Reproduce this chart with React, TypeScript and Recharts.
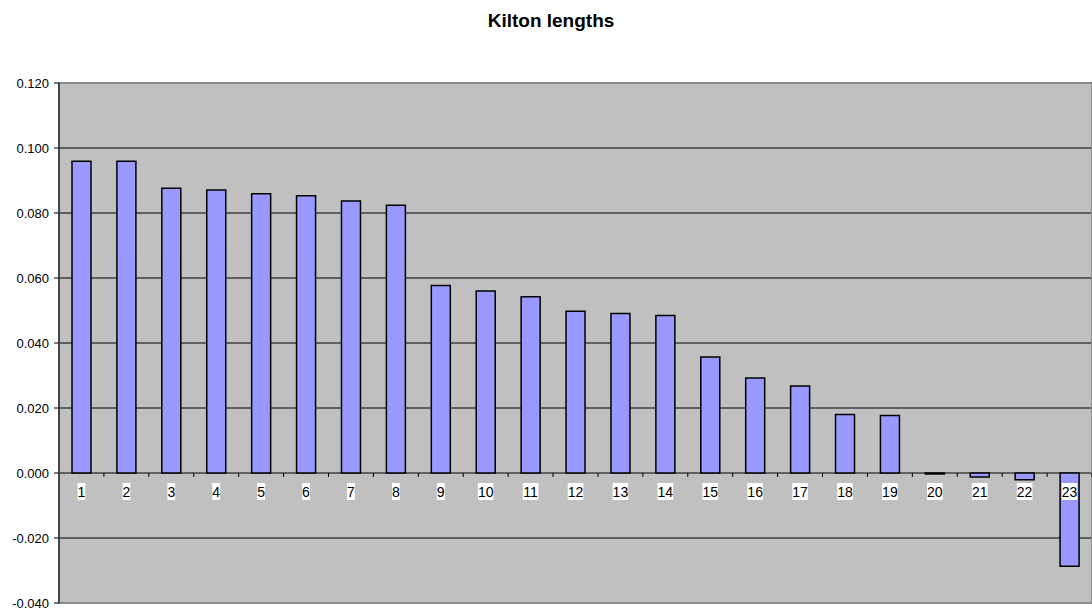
import { Bar, BarChart, CartesianGrid, ReferenceArea, XAxis, YAxis } from "recharts";

const CATEGORIES = [
  "1", "2", "3", "4", "5", "6", "7", "8", "9", "10", "11", "12",
  "13", "14", "15", "16", "17", "18", "19", "20", "21", "22", "23",
];
const LENGTHS = [
  0.0959, 0.0959, 0.0876, 0.0871, 0.0859, 0.0853, 0.0837, 0.0824, 0.0577,
  0.056, 0.0542, 0.0498, 0.0491, 0.0485, 0.0357, 0.0292, 0.0268, 0.018,
  0.0177, -0.0003, -0.0012, -0.0021, -0.0287,
];
const Y_TICKS = [-0.04, -0.02, 0, 0.02, 0.04, 0.06, 0.08, 0.1, 0.12];

const W = 1092;
const H = 610;
const TOP = 83;
const BOTTOM = 5;
const LEFT = 59;
const X_AXIS_H = 2;
const PLOT_H = H - TOP - BOTTOM - X_AXIS_H;
const ZERO_Y = TOP + (PLOT_H * 0.12) / 0.16;
const BAND = (W - LEFT) / CATEGORIES.length;
const FONT = "'Liberation Sans', Arial, sans-serif";

const data = CATEGORIES.map((c, i) => ({ name: c, value: LENGTHS[i] }));

// labels sit on the zero line with a white box, like the excel original
function ZeroTick(props: any) {
  const { x, payload } = props;
  const label = String(payload.value);
  const w = label.length * 7.8;
  return (
    <g>
      <line x1={x + BAND / 2} x2={x + BAND / 2} y1={ZERO_Y} y2={ZERO_Y + 4} stroke="#000" />
      <rect x={x - w / 2} y={ZERO_Y + 10} width={w} height={17} fill="#fff" />
      <text
        x={x}
        y={ZERO_Y + 23.5}
        textAnchor="middle"
        fontSize={14}
        fontFamily={FONT}
        fill="#000"
      >
        {label}
      </text>
    </g>
  );
}

export default function App() {
  return (
    <div style={{ position: "absolute", left: 0, top: 0, width: W, height: H, background: "#fff" }}>
      <BarChart
        width={W}
        height={H}
        data={data}
        margin={{ top: TOP, right: 0, bottom: BOTTOM, left: 0 }}
        barSize={19}
      >
        <text
          x={551}
          y={27}
          textAnchor="middle"
          fontSize={19}
          fontWeight="bold"
          fontFamily={FONT}
          fill="#000"
        >
          Kilton lengths
        </text>
        <CartesianGrid vertical={false} stroke="#000" fill="#C0C0C0" fillOpacity={1} />
        <ReferenceArea
          y1={-0.04}
          y2={0.12}
          fill="none"
          stroke="#8a8a8a"
          strokeWidth={2}
          ifOverflow="visible"
        />
        <XAxis
          dataKey="name"
          height={X_AXIS_H}
          axisLine={false}
          tickLine={false}
          interval={0}
          tick={(p: any) => <ZeroTick {...p} />}
        />
        <YAxis
          width={LEFT}
          domain={[-0.04, 0.12]}
          ticks={Y_TICKS}
          interval={0}
          allowDataOverflow
          tickFormatter={(v: number) => v.toFixed(3)}
          axisLine={{ stroke: "#000" }}
          tickLine={{ stroke: "#000" }}
          tickSize={5}
          tickMargin={5}
          tick={{ fontSize: 13, fontFamily: FONT, fill: "#000" }}
        />
        <Bar
          dataKey="value"
          fill="#9999FF"
          stroke="#000"
          strokeWidth={1.5}
          isAnimationActive={false}
        />
      </BarChart>
    </div>
  );
}
